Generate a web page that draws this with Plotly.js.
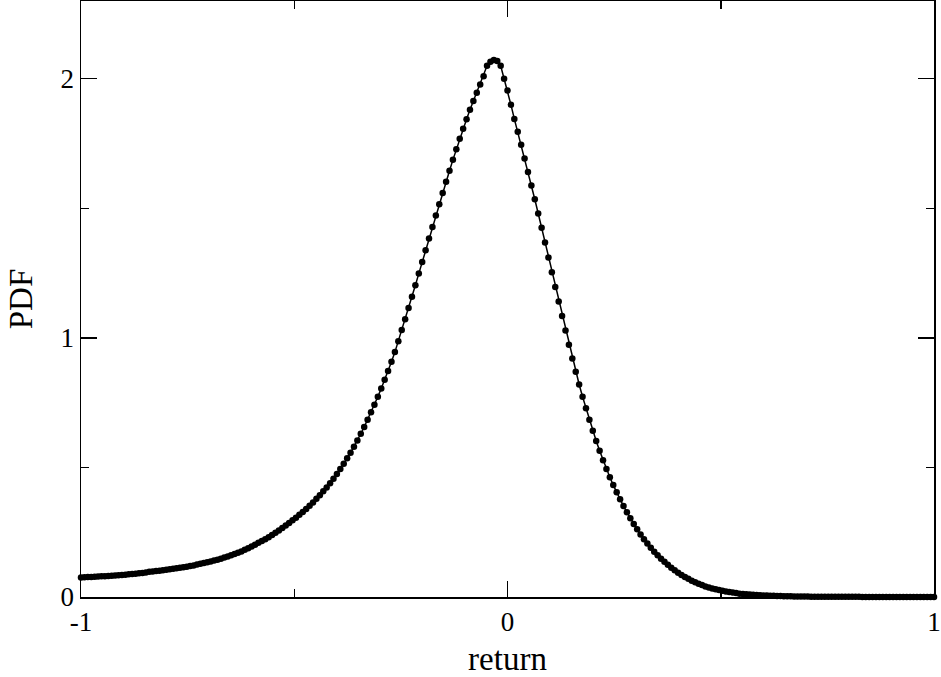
<!DOCTYPE html>
<html>
<head>
<meta charset="utf-8">
<script src="https://cdn.plot.ly/plotly-3.0.1.min.js"></script>
<style>html,body{margin:0;padding:0;background:#fff;}#chart{width:941px;height:677px;}</style>
</head>
<body>
<div id="chart"></div>
<script>
// return values (x) and estimated probability density (y)
const returnValues = [
-1.000,-0.992,-0.984,-0.976,-0.968,-0.960,-0.952,-0.944,-0.936,-0.928,
-0.920,-0.912,-0.904,-0.896,-0.888,-0.880,-0.872,-0.864,-0.856,-0.848,
-0.840,-0.832,-0.824,-0.816,-0.808,-0.800,-0.792,-0.784,-0.776,-0.768,
-0.760,-0.752,-0.744,-0.736,-0.728,-0.720,-0.712,-0.704,-0.696,-0.688,
-0.680,-0.672,-0.664,-0.656,-0.648,-0.640,-0.632,-0.624,-0.616,-0.608,
-0.600,-0.592,-0.584,-0.576,-0.568,-0.560,-0.552,-0.544,-0.536,-0.528,
-0.520,-0.512,-0.504,-0.496,-0.488,-0.480,-0.472,-0.464,-0.456,-0.448,
-0.440,-0.432,-0.424,-0.416,-0.408,-0.400,-0.392,-0.384,-0.376,-0.368,
-0.360,-0.352,-0.344,-0.336,-0.328,-0.320,-0.312,-0.304,-0.296,-0.288,
-0.280,-0.272,-0.264,-0.256,-0.248,-0.240,-0.232,-0.224,-0.216,-0.208,
-0.200,-0.192,-0.184,-0.176,-0.168,-0.160,-0.152,-0.144,-0.136,-0.128,
-0.120,-0.112,-0.104,-0.096,-0.088,-0.080,-0.072,-0.064,-0.056,-0.048,
-0.040,-0.032,-0.024,-0.016,-0.008,0.000,0.008,0.016,0.024,0.032,
0.040,0.048,0.056,0.064,0.072,0.080,0.088,0.096,0.104,0.112,
0.120,0.128,0.136,0.144,0.152,0.160,0.168,0.176,0.184,0.192,
0.200,0.208,0.216,0.224,0.232,0.240,0.248,0.256,0.264,0.272,
0.280,0.288,0.296,0.304,0.312,0.320,0.328,0.336,0.344,0.352,
0.360,0.368,0.376,0.384,0.392,0.400,0.408,0.416,0.424,0.432,
0.440,0.448,0.456,0.464,0.472,0.480,0.488,0.496,0.504,0.512,
0.520,0.528,0.536,0.544,0.552,0.560,0.568,0.576,0.584,0.592,
0.600,0.608,0.616,0.624,0.632,0.640,0.648,0.656,0.664,0.672,
0.680,0.688,0.696,0.704,0.712,0.720,0.728,0.736,0.744,0.752,
0.760,0.768,0.776,0.784,0.792,0.800,0.808,0.816,0.824,0.832,
0.840,0.848,0.856,0.864,0.872,0.880,0.888,0.896,0.904,0.912,
0.920,0.928,0.936,0.944,0.952,0.960,0.968,0.976,0.984,0.992,
1.000];

const pdfValues = [
0.075,0.076,0.077,0.077,0.078,0.079,0.080,0.080,0.081,0.082,
0.083,0.084,0.085,0.086,0.088,0.089,0.090,0.092,0.093,0.095,
0.097,0.098,0.100,0.101,0.103,0.105,0.107,0.109,0.111,0.113,
0.115,0.117,0.120,0.122,0.125,0.128,0.131,0.134,0.137,0.141,
0.144,0.148,0.152,0.156,0.161,0.166,0.171,0.176,0.182,0.188,
0.195,0.202,0.209,0.216,0.223,0.231,0.239,0.248,0.257,0.266,
0.276,0.286,0.296,0.306,0.317,0.328,0.340,0.352,0.365,0.379,
0.393,0.408,0.423,0.439,0.456,0.475,0.494,0.514,0.535,0.557,
0.580,0.604,0.630,0.656,0.684,0.713,0.742,0.773,0.805,0.838,
0.872,0.908,0.945,0.987,1.030,1.072,1.115,1.159,1.203,1.248,
1.293,1.338,1.383,1.428,1.472,1.516,1.559,1.602,1.645,1.687,
1.728,1.768,1.807,1.844,1.880,1.914,1.946,1.978,2.010,2.050,
2.066,2.072,2.068,2.050,2.000,1.955,1.900,1.845,1.795,1.745,
1.692,1.640,1.588,1.535,1.480,1.425,1.368,1.310,1.253,1.196,
1.140,1.084,1.028,0.973,0.920,0.869,0.820,0.773,0.728,0.684,
0.642,0.602,0.564,0.528,0.494,0.462,0.432,0.404,0.377,0.351,
0.327,0.304,0.282,0.261,0.241,0.223,0.206,0.190,0.175,0.161,
0.148,0.136,0.124,0.113,0.103,0.094,0.085,0.077,0.070,0.063,
0.057,0.051,0.046,0.041,0.037,0.033,0.030,0.027,0.024,0.021,
0.019,0.017,0.015,0.013,0.012,0.011,0.010,0.009,0.008,0.007,
0.0060,0.0055,0.0050,0.0045,0.0040,0.0036,0.0032,0.0029,0.0026,0.0023,
0.0021,0.0019,0.0017,0.0015,0.0014,0.0013,0.0012,0.0011,0.0010,0.0009,
0.0008,0.0008,0.0007,0.0007,0.0006,0.0006,0.0005,0.0005,0.0005,0.0004,
0.0004,0.0004,0.0003,0.0003,0.0003,0.0003,0.0002,0.0002,0.0002,0.0002,
0.0002,0.0002,0.0001,0.0001,0.0001,0.0001,0.0001,0.0001,0.0001,0.0001,
0.0001];

const xTickVals = [-1, 0, 1];
const xTickText = ['-1', '0', '1'];
const yTickVals = [0, 1, 2];
const yTickText = ['0', '1', '2'];

const serif = 'Liberation Serif, Times New Roman, serif';

const trace = {
  x: returnValues,
  y: pdfValues,
  type: 'scatter',
  mode: 'lines+markers',
  line: {color: '#000', width: 1.5},
  marker: {color: '#000', size: 6.5},
  cliponaxis: false,
  hoverinfo: 'skip'
};

const axisCommon = {
  showgrid: false,
  zeroline: false,
  showline: true,
  linecolor: '#000',
  linewidth: 1.5,
  mirror: 'ticks',
  ticks: 'inside',
  ticklen: 16,
  tickwidth: 1.5,
  tickcolor: '#000',
  tickfont: {family: serif, size: 27, color: '#000'},
  tickmode: 'array'
};

const layout = {
  width: 941,
  height: 677,
  margin: {l: 81, r: 7, t: 1, b: 80},
  paper_bgcolor: '#fff',
  plot_bgcolor: '#fff',
  showlegend: false,
  xaxis: Object.assign({}, axisCommon, {
    range: [-1, 1],
    tickvals: xTickVals,
    ticktext: xTickText,
    minor: {tickvals: [-0.5, 0.5], ticks: 'inside', ticklen: 8, tickwidth: 1.5, tickcolor: '#000'},
    title: {text: 'return', font: {family: serif, size: 33, color: '#000'}, standoff: 21}
  }),
  yaxis: Object.assign({}, axisCommon, {
    range: [0, 2.3],
    tickvals: yTickVals,
    ticktext: yTickText,
    minor: {tickvals: [0.5, 1.5], ticks: 'inside', ticklen: 8, tickwidth: 1.5, tickcolor: '#000'},
    title: {text: 'PDF', font: {family: serif, size: 33, color: '#000'}, standoff: 18}
  })
};

Plotly.newPlot('chart', [trace], layout, {staticPlot: true, displayModeBar: false});
</script>
</body>
</html>
